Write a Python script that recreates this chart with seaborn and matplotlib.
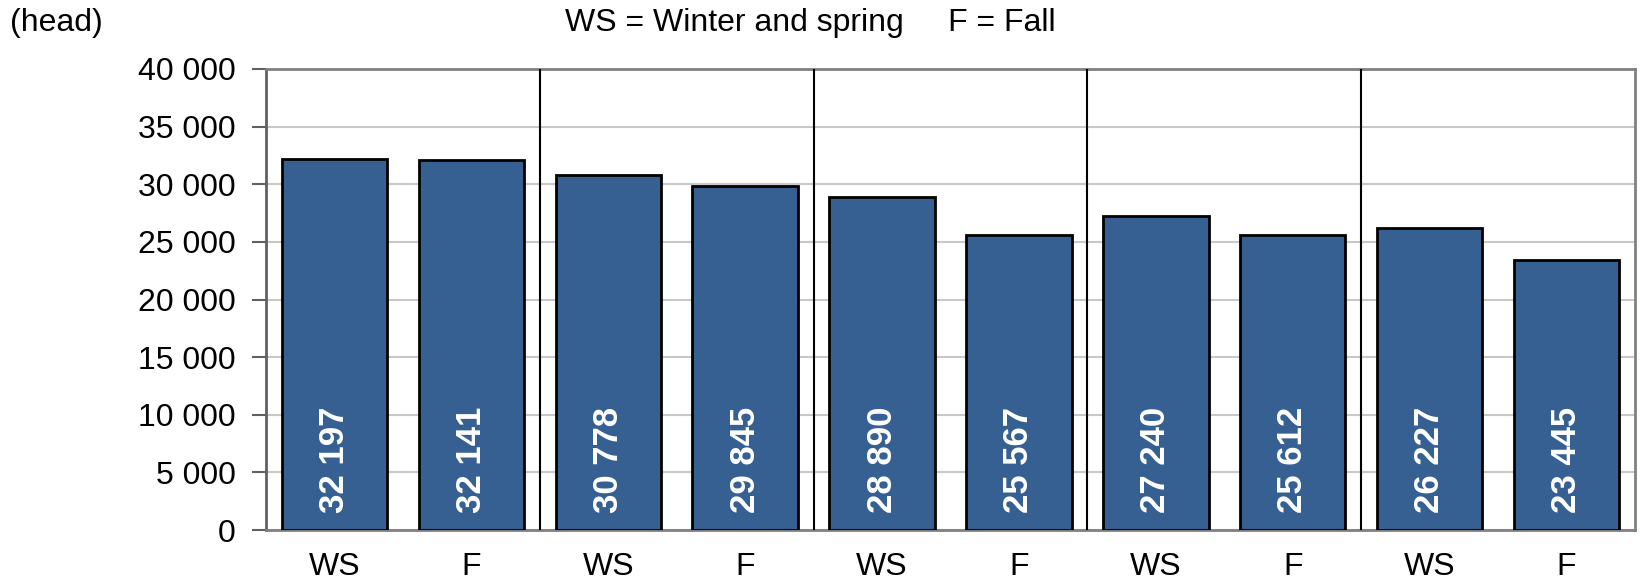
import matplotlib
matplotlib.use("Agg")
import matplotlib.pyplot as plt
import seaborn as sns
import pandas as pd

# values
seasons = ["WS", "F", "WS", "F", "WS", "F", "WS", "F", "WS", "F"]
heads = [32197, 32141, 30778, 29845, 28890, 25567, 27240, 25612, 26227, 23445]
group_bounds = [1.5, 3.5, 5.5, 7.5]
y_ticks = [0, 5000, 10000, 15000, 20000, 25000, 30000, 35000, 40000]

sns.set_style("white")
plt.rcParams["font.family"] = ["Liberation Sans", "DejaVu Sans"]
plt.rcParams["text.color"] = "black"
plt.rcParams["xtick.labelcolor"] = "black"
plt.rcParams["ytick.labelcolor"] = "black"

df = pd.DataFrame({"pos": list(range(len(heads))), "heads": heads})

fig = plt.figure(figsize=(16.41, 5.82), dpi=100)
ax = fig.add_axes([266 / 1641, 1 - 530 / 582, 1369 / 1641, 461 / 582])

sns.barplot(data=df, x="pos", y="heads", color="#376092", saturation=1,
            width=0.77, edgecolor="black", linewidth=2, ax=ax, zorder=3)

ax.set_xlim(-0.5, len(heads) - 0.5)
ax.set_ylim(0, 40000)
ax.set_yticks(y_ticks)
ax.set_yticklabels([f"{v:,}".replace(",", " ") for v in y_ticks], fontsize=23)
ax.yaxis.grid(True, color="#c8c8c8", linewidth=1.5, zorder=0)

ax.set_xticks(range(len(heads)))
ax.set_xticklabels(seasons, fontsize=23)
ax.tick_params(axis="x", which="major", length=0, pad=16, labelcolor="black")
ax.set_xticks([-0.5] + group_bounds + [len(heads) - 0.5], minor=True)
ax.tick_params(axis="x", which="minor", length=10, width=1.5, color="#808080")
ax.tick_params(axis="y", length=10, width=1.5, color="#606060", pad=12,
               left=True, labelcolor="black")
ax.set_xlabel("")
ax.set_ylabel("")

for s in ax.spines.values():
    s.set_color("#808080")
    s.set_linewidth(2)
ax.spines["left"].set_color("#606060")

for b in group_bounds:
    ax.axvline(b, color="black", linewidth=1.5, zorder=4)

for i, v in enumerate(heads):
    ax.text(i, 1450, f"{v:,}".replace(",", " "), rotation=90, ha="center",
            va="bottom", color="white", fontsize=25, fontweight="bold", zorder=5)

fig.text(10 / 1641, 1 - 23 / 582, "(head)", fontsize=23, va="center", ha="left")
fig.text(565 / 1641, 1 - 23 / 582, "WS = Winter and spring     F = Fall",
         fontsize=23, va="center", ha="left")

fig.savefig("out.png", dpi=100)
